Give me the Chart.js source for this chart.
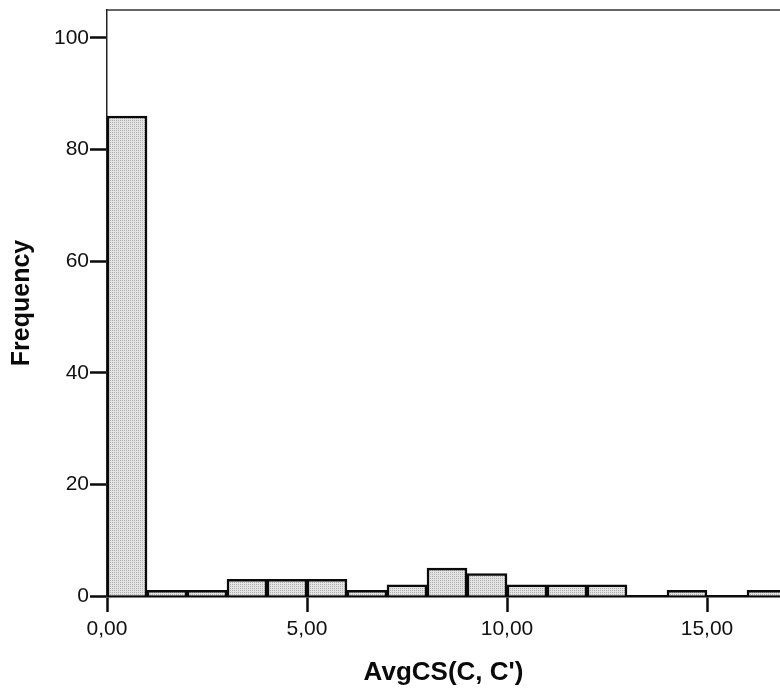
<!DOCTYPE html>
<html>
<head>
<meta charset="utf-8">
<script src="https://cdn.jsdelivr.net/npm/chart.js@4.4.1/dist/chart.umd.min.js"></script>
<style>
  html, body { margin: 0; padding: 0; background: #ffffff; overflow: hidden; }
  #wrap { width: 780px; height: 692px; }
</style>
</head>
<body>
<div id="wrap"><canvas id="c" width="780" height="692"></canvas></div>
<script>
// ---- data ----
const binStarts = [0, 1, 2, 3, 4, 5, 6, 7, 8, 9, 10, 11, 12, 13, 14, 15, 16];
const frequencies = [86, 1, 1, 3, 3, 3, 1, 2, 5, 4, 2, 2, 2, 0, 1, 0, 1];
const binWidth = 1;
const xTickValues = [0, 5, 10, 15];
const yTickValues = [0, 20, 40, 60, 80, 100];
const xTitle = "AvgCS(C, C')";
const yTitle = "Frequency";

// stipple fill like the original print
function stipple() {
  const p = document.createElement('canvas');
  p.width = 2; p.height = 2;
  const g = p.getContext('2d');
  g.fillStyle = '#e4e4e4';
  g.fillRect(0, 0, 2, 2);
  g.fillStyle = '#b0b0b0';
  g.fillRect(0, 0, 1, 1);
  return g.createPattern(p, 'repeat');
}

const points = binStarts.map((s, i) => ({ x: s + binWidth / 2, y: frequencies[i] }));

const topFrame = {
  id: 'topFrame',
  afterDraw(chart) {
    const { ctx, chartArea } = chart;
    ctx.save();
    ctx.strokeStyle = '#333333';
    ctx.lineWidth = 1.5;
    ctx.beginPath();
    ctx.moveTo(chartArea.left, chartArea.top);
    ctx.lineTo(chart.width, chartArea.top);
    ctx.stroke();
    ctx.restore();
  }
};

const fmt = v => v.toFixed(2).replace('.', ',');

new Chart(document.getElementById('c'), {
  type: 'bar',
  data: {
    datasets: [{
      data: points,
      backgroundColor: stipple(),
      borderColor: '#0a0a0a',
      borderWidth: 2.5,
      barPercentage: 1.0,
      categoryPercentage: 1.0
    }]
  },
  options: {
    responsive: false,
    animation: false,
    events: [],
    layout: { padding: { top: 10, right: 0, bottom: 0, left: 0 } },
    plugins: { legend: { display: false }, tooltip: { enabled: false } },
    scales: {
      x: {
        type: 'linear',
        min: 0,
        max: 16.825,
        offset: false,
        afterBuildTicks: s => { s.ticks = xTickValues.map(v => ({ value: v })); },
        afterFit: s => { s.height = 96; s.paddingRight = 0; },
        grid: { display: true, offset: false, drawOnChartArea: false, drawTicks: true,
                tickLength: 16, tickColor: '#0a0a0a', tickWidth: 2.5 },
        border: { display: true, color: '#0a0a0a', width: 2.5 },
        ticks: {
          color: '#111111', padding: 5, maxRotation: 0, autoSkip: false,
          font: { family: 'Liberation Sans, Arial, sans-serif', size: 21 },
          callback: v => fmt(v)
        },
        title: {
          display: true, text: xTitle, color: '#0a0a0a',
          font: { family: 'Liberation Sans, Arial, sans-serif', size: 26, weight: 'bold', lineHeight: 1.2 },
          padding: { top: 0, bottom: 4 }
        }
      },
      y: {
        min: 0,
        max: 105,
        afterBuildTicks: s => { s.ticks = yTickValues.map(v => ({ value: v })); },
        afterFit: s => { s.width = 107; s.paddingTop = 0; s.paddingBottom = 0; },
        grid: { display: true, drawOnChartArea: false, drawTicks: true,
                tickLength: 17, tickColor: '#0a0a0a', tickWidth: 2.5 },
        border: { display: true, color: '#222222', width: 1.5 },
        ticks: {
          color: '#111111', padding: 1, autoSkip: false,
          font: { family: 'Liberation Sans, Arial, sans-serif', size: 21 }
        },
        title: {
          display: true, text: yTitle, color: '#0a0a0a',
          font: { family: 'Liberation Sans, Arial, sans-serif', size: 25, weight: 'bold', lineHeight: 1.2 },
          padding: { top: 7, bottom: 0 }
        }
      }
    }
  },
  plugins: [topFrame]
});
</script>
</body>
</html>
